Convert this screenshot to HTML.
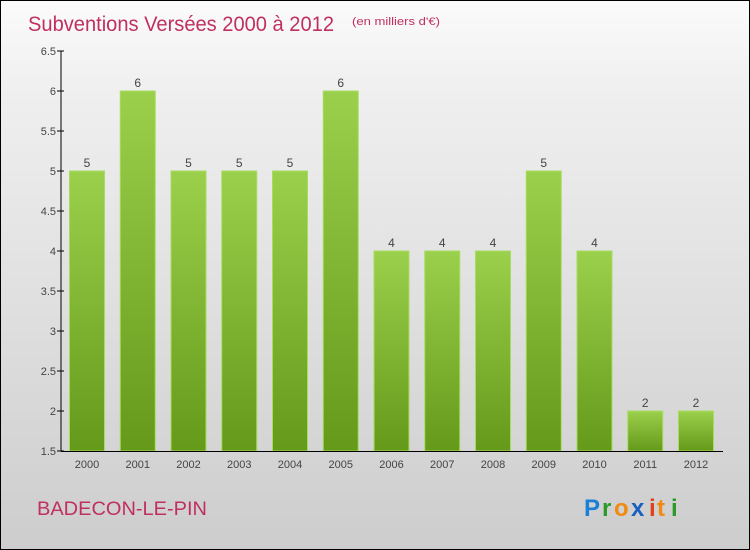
<!DOCTYPE html>
<html><head><meta charset="utf-8"><style>
body{margin:0}
#c{width:750px;height:550px;position:relative;box-sizing:border-box;border:1px solid #000;background:linear-gradient(#fbfbfb,#f0f0f0 15%,#cdcdcd);font-family:"Liberation Sans",sans-serif;overflow:hidden}
svg{position:absolute;left:0;top:0}
</style></head><body>
<div id="c">
<svg id="s" width="750" height="550">
<defs><linearGradient id="g" x1="0" y1="0" x2="0" y2="1"><stop offset="0" stop-color="#9bd04c"/><stop offset="1" stop-color="#65991a"/></linearGradient></defs>
<text x="27" y="30" font-size="21" fill="#c0305f" textLength="306" lengthAdjust="spacingAndGlyphs">Subventions Versées 2000 à 2012</text>
<text x="351" y="24" font-size="11" fill="#c0305f" textLength="88" lengthAdjust="spacingAndGlyphs">(en milliers d'€)</text>
<text x="36" y="514" font-size="19" fill="#c0305f" textLength="170" lengthAdjust="spacingAndGlyphs">BADECON-LE-PIN</text>
<g font-size="24" font-weight="bold"><text x="583" y="515" fill="#1a7fd6">P</text><text x="601" y="515" fill="#2a9a2a">r</text><text x="613" y="515" fill="#f08a10">o</text><text x="630" y="515" fill="#1a60c0">x</text><text x="648" y="515" fill="#e0401a">i</text><text x="656" y="515" fill="#f08a10">t</text><text x="670" y="515" fill="#2a9a2a">i</text></g>
</svg></div>
<script>
const years=["2000","2001","2002","2003","2004","2005","2006","2007","2008","2009","2010","2011","2012"];
const values=[5,6,5,5,5,6,4,4,4,5,4,2,2];
const yTicks=[1.5,2,2.5,3,3.5,4,4.5,5,5.5,6,6.5];
const NS="http://www.w3.org/2000/svg",s=document.getElementById('s');
const y=v=>450-(v-1.5)*80, x=i=>86+i*50.75;
function mk(t,a,txt){const e=document.createElementNS(NS,t);for(const k in a)e.setAttribute(k,a[k]);if(txt!=null)e.textContent=txt;s.appendChild(e);return e;}
values.forEach((v,i)=>{
 const r=mk('rect',{x:x(i)-17.5,y:y(v),width:35,height:450-y(v),fill:'url(#g)',stroke:'#a8dc60','stroke-width':1});
 
 
 const t=mk('text',{x:x(i),y:y(v)-4,'text-anchor':'middle','font-size':12,fill:'#444'},String(v));
 
 
 const l=mk('text',{x:x(i),y:467,'text-anchor':'middle','font-size':11,fill:'#444'},years[i]);
 
 
});
yTicks.forEach(v=>{
 const tk=mk('line',{x1:56,x2:63,y1:y(v),y2:y(v),stroke:'#000'});
 
 
 const t=mk('text',{x:55,y:y(v)+4,'text-anchor':'end','font-size':11,fill:'#444'},String(v));
 
 
});
const ya=mk('line',{x1:60,x2:60,y1:50,y2:450,stroke:'#000'});


const xa=mk('line',{x1:60,x2:722,y1:450.5,y2:450.5,stroke:'#000'});


</script>
</body></html>
